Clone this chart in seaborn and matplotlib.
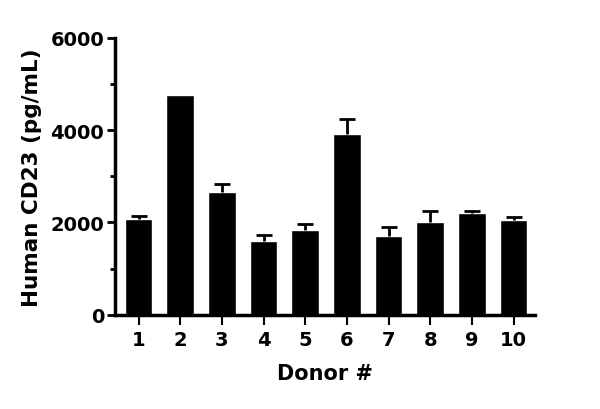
import matplotlib
matplotlib.use('Agg')
import matplotlib.pyplot as plt
import seaborn as sns
import pandas as pd
import numpy as np
from matplotlib.ticker import MultipleLocator

# donor numbers and CD23 values
donors = ['1', '2', '3', '4', '5', '6', '7', '8', '9', '10']
cd23 = [2075, 4760, 2660, 1600, 1840, 3920, 1715, 2005, 2205, 2060]
cd23_err = [60, 0, 180, 130, 135, 320, 185, 235, 45, 50]

df = pd.DataFrame({'donor': donors, 'cd23': cd23, 'err': cd23_err})

sns.set_style('ticks')
plt.rcParams['font.family'] = ['DejaVu Sans']
plt.rcParams['font.weight'] = 'bold'
plt.rcParams['text.color'] = 'black'
plt.rcParams['axes.labelcolor'] = 'black'

fig = plt.figure(figsize=(6, 4.1), dpi=100)
ax = fig.add_axes([0.192, 0.23, 0.70, 0.675])

sns.barplot(x='donor', y='cd23', data=df, color='black', saturation=1,
            width=0.67, errorbar=None, ax=ax)

# upper error bars only, skip donors without visible error
pos = np.arange(len(donors))
m = df['err'].values > 0
eb = ax.errorbar(pos[m], df['cd23'].values[m],
                 yerr=[np.zeros(m.sum()), df['err'].values[m]], fmt='none',
                 ecolor='black', elinewidth=2, capsize=6, capthick=2, zorder=3)
eb[1][0].set_visible(False)  # lower caps

ax.set_ylim(0, 6000)
ax.set_xlim(-0.56, 9.52)
ax.yaxis.set_major_locator(MultipleLocator(2000))
ax.yaxis.set_minor_locator(MultipleLocator(1000))

sns.despine(ax=ax)
for s in ['left', 'bottom']:
    ax.spines[s].set_linewidth(2.5)
    ax.spines[s].set_color('black')
ax.tick_params(axis='y', which='major', length=6, width=2, colors='black', labelsize=14, pad=2)
ax.tick_params(axis='y', which='minor', length=3.5, width=2, colors='black')
ax.tick_params(axis='x', length=7, width=1.5, colors='black', labelsize=14, pad=4)

ax.set_xlabel('Donor #', fontsize=15, fontweight='bold', labelpad=10)
ax.set_ylabel('Human CD23 (pg/mL)', fontsize=15.5, fontweight='bold', labelpad=6)

fig.savefig('out.png', dpi=100)
